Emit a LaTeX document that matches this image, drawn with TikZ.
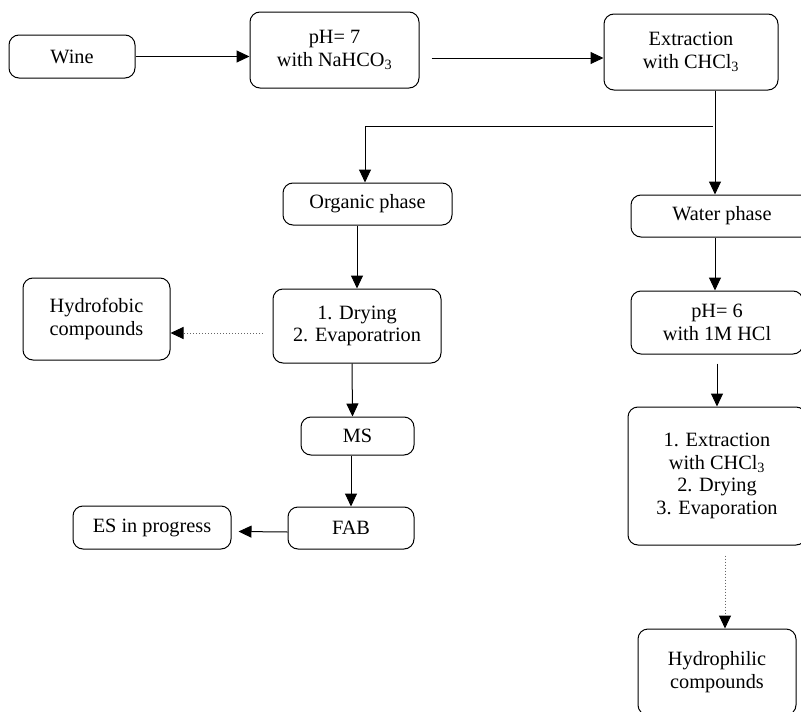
\documentclass[tikz,border=0pt]{standalone}
\usepackage{fontspec}
\setmainfont{Liberation Serif}
\usepackage{tikz}
\usetikzlibrary{arrows.meta,positioning}

\begin{document}
\begin{tikzpicture}[x=1pt, y=-1pt,
  box/.style={draw, rounded corners=10pt, line width=1pt, align=center, inner sep=0pt,
    font=\fontsize{20.3}{22.5}\selectfont},
  arr/.style={line width=1pt, -{Triangle[length=13pt,width=12pt]}},
  dotarr/.style={line width=1pt, dotted, gray!80!black, -{Triangle[length=13pt,width=12pt,color=black]}}]
\useasboundingbox (0,0) rectangle (801,712);
\clip (0,0) rectangle (801,712);

\node [box, minimum width=126pt, minimum height=43pt] (wine) at (72,56.5) {Wine};
\node [box, minimum width=169pt, minimum height=76pt] (ph7) at (334.5,50) {pH= 7\\with NaHCO\textsubscript{3}};
\node [box, minimum width=174pt, minimum height=76pt] (extr) at (691,52) {Extraction\\with CHCl\textsubscript{3}};

\node [box, minimum width=169pt, minimum height=42pt] (organic) at (367.5,204) {Organic phase};
\node [box, minimum width=182pt, minimum height=42pt] (water) at (722,216) {Water phase};

\node [box, minimum width=147pt, minimum height=82pt] (hydrofobic) at (96.5,319) {Hydrofobic\\compounds};
\node [box, minimum width=168pt, minimum height=74pt] (drying) at (357,326) {1. Drying\\2. Evaporatrion};
\node [box, minimum width=172pt, minimum height=63pt] (ph6) at (717,322.5) {pH= 6\\with 1M HCl};

\node [box, minimum width=113pt, minimum height=38pt] (ms) at (357.5,436) {MS};
\node [box, minimum width=126pt, minimum height=42pt] (fab) at (351,528) {FAB};
\node [box, minimum width=158pt, minimum height=43pt] (es) at (152,527.5) {ES in progress};
\node [box, minimum width=178pt, minimum height=138pt] (extr2) at (717,476) {1. Extraction\\with CHCl\textsubscript{3}\\2. Drying\\3. Evaporation};
\node [box, minimum width=158pt, minimum height=86pt] (hydrophilic) at (717,672) {Hydrophilic\\compounds};

\coordinate (split) at (715,126);
\coordinate (turn) at (365,126);

\draw [arr] (wine.east) -- (wine.east -| ph7.west);
\draw [arr] ([shift={(12,8)}]ph7.east) -- ([yshift=-6pt]extr.west);
\draw [line width=1pt] (split |- extr.south) -- (split);
\draw [arr] (split) -- (split |- water.north);
\draw [arr] ([xshift=-2pt]split) -- (turn) -- (turn |- organic.north);
\draw [arr] (organic.south -| drying.north) -- (drying.north);
\draw [dotarr] ([shift={(-10,7)}]drying.west) -- ([yshift=-14pt]hydrofobic.east);
\draw [arr] ([xshift=-5pt]drying.south) -- ([xshift=-5pt]ms.north);
\draw [arr] (ms.south -| fab.north) -- (fab.north);
\draw [arr] ([yshift=-4pt]fab.west) -- ([shift={(7,4)}]es.east);
\draw [arr] (water.south -| split) -- (split |- ph6.north);
\draw [arr] ([yshift=-9pt]ph6.south) -- (extr2.north);
\draw [dotarr] ([shift={(8,10)}]extr2.south) -- ([xshift=8pt]hydrophilic.north);

\end{tikzpicture}
\end{document}
